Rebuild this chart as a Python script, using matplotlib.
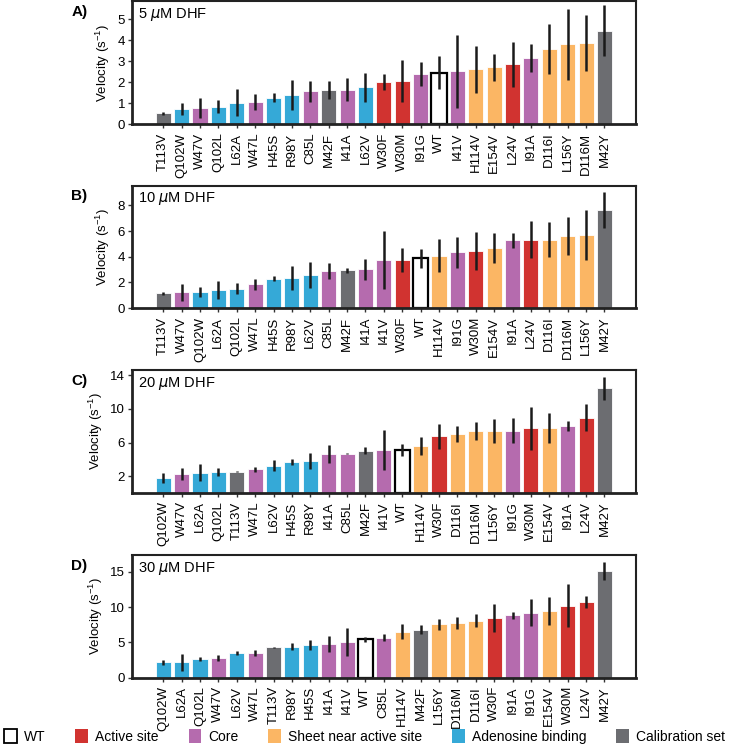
import matplotlib
matplotlib.use("Agg")
import matplotlib.pyplot as plt
from matplotlib.patches import Patch

plt.rcParams['font.family'] = ['Liberation Sans', 'DejaVu Sans']

# mutant category
group = {
    'WT': 'WT',
    'W30F': 'active', 'W30M': 'active', 'L24V': 'active',
    'W47V': 'core', 'W47L': 'core', 'C85L': 'core', 'I41A': 'core',
    'I91G': 'core', 'I41V': 'core', 'I91A': 'core',
    'H114V': 'sheet', 'E154V': 'sheet', 'D116I': 'sheet', 'L156Y': 'sheet', 'D116M': 'sheet',
    'Q102W': 'aden', 'Q102L': 'aden', 'L62A': 'aden', 'H45S': 'aden', 'R98Y': 'aden', 'L62V': 'aden',
    'T113V': 'calib', 'M42F': 'calib', 'M42Y': 'calib',
}
colors = {'WT': 'white', 'active': '#d13330', 'core': '#b56bae', 'sheet': '#fbb664',
          'aden': '#35a9d7', 'calib': '#6c6d71'}

# 5 uM DHF
labels_5 = ['T113V', 'Q102W', 'W47V', 'Q102L', 'L62A', 'W47L', 'H45S', 'R98Y', 'C85L', 'M42F',
            'I41A', 'L62V', 'W30F', 'W30M', 'I91G', 'WT', 'I41V', 'H114V', 'E154V', 'L24V',
            'I91A', 'D116I', 'L156Y', 'D116M', 'M42Y']
vel_5 = [0.51, 0.73, 0.76, 0.84, 1.03, 1.07, 1.27, 1.39, 1.56, 1.64, 1.64, 1.75, 2.02, 2.05,
         2.39, 2.45, 2.53, 2.61, 2.71, 2.85, 3.17, 3.58, 3.81, 3.87, 4.46]
err_5 = [0.07, 0.3, 0.48, 0.33, 0.64, 0.38, 0.22, 0.7, 0.51, 0.44, 0.55, 0.67, 0.38, 1.0,
         0.58, 0.78, 1.74, 1.12, 0.64, 1.08, 0.67, 1.19, 1.68, 1.35, 1.2]

# 10 uM DHF
labels_10 = ['T113V', 'W47V', 'Q102W', 'L62A', 'Q102L', 'W47L', 'H45S', 'R98Y', 'L62V', 'C85L',
             'M42F', 'I41A', 'I41V', 'W30F', 'WT', 'H114V', 'I91G', 'W30M', 'E154V', 'I91A',
             'L24V', 'D116I', 'D116M', 'L156Y', 'M42Y']
vel_10 = [1.16, 1.24, 1.24, 1.39, 1.5, 1.86, 2.3, 2.37, 2.58, 2.89, 2.94, 3.02, 3.74, 3.77,
          3.9, 4.1, 4.34, 4.44, 4.65, 5.29, 5.34, 5.34, 5.63, 5.68, 7.66]
err_10 = [0.1, 0.67, 0.39, 0.71, 0.43, 0.43, 0.2, 0.95, 1.0, 0.65, 0.2, 0.8, 2.26, 0.95,
          0.74, 1.29, 1.19, 1.46, 1.17, 0.59, 1.42, 1.33, 1.5, 1.94, 1.4]

# 20 uM DHF
labels_20 = ['Q102W', 'W47V', 'L62A', 'Q102L', 'T113V', 'W47L', 'L62V', 'H45S', 'R98Y', 'I41A',
             'C85L', 'M42F', 'I41V', 'WT', 'H114V', 'W30F', 'D116I', 'D116M', 'L156Y', 'I91G',
             'W30M', 'E154V', 'I91A', 'L24V', 'M42Y']
vel_20 = [1.76, 2.24, 2.43, 2.51, 2.55, 2.79, 3.26, 3.73, 3.81, 4.64, 4.68, 5.03, 5.07, 5.11,
          5.58, 6.76, 6.96, 7.35, 7.35, 7.43, 7.67, 7.71, 8.02, 8.97, 12.43]
err_20 = [0.6, 0.75, 1.0, 0.5, 0.05, 0.3, 0.6, 0.35, 0.95, 1.1, 0.05, 0.4, 2.4, 0.73,
          1.06, 1.5, 0.95, 1.08, 1.42, 1.47, 2.52, 1.81, 0.59, 1.63, 1.42]

# 30 uM DHF
labels_30 = ['Q102W', 'L62A', 'Q102L', 'W47V', 'L62V', 'W47L', 'T113V', 'R98Y', 'H45S', 'I41A',
             'I41V', 'WT', 'C85L', 'H114V', 'M42F', 'L156Y', 'D116M', 'D116I', 'W30F', 'I91A',
             'I91G', 'E154V', 'W30M', 'L24V', 'M42Y']
vel_30 = [2.16, 2.16, 2.67, 2.81, 3.52, 3.52, 4.31, 4.36, 4.64, 4.78, 5.06, 5.44, 5.67,
          6.52, 6.8, 7.55, 7.74, 8.11, 8.44, 8.86, 9.19, 9.47, 10.22, 10.74, 15.14]
err_30 = [0.4, 1.25, 0.33, 0.38, 0.33, 0.38, 0.05, 0.5, 0.73, 1.08, 1.95, 0.33, 0.52,
          1.03, 0.66, 0.84, 0.82, 0.89, 1.95, 0.47, 1.92, 2.04, 3.05, 0.84, 1.33]

panels = [
    ('A)', '5 $\\mu$M DHF', labels_5, vel_5, err_5, (0, 5.85), [0, 1, 2, 3, 4, 5]),
    ('B)', '10 $\\mu$M DHF', labels_10, vel_10, err_10, (0, 9.55), [0, 2, 4, 6, 8]),
    ('C)', '20 $\\mu$M DHF', labels_20, vel_20, err_20, (0, 14.6), [2, 6, 10, 14]),
    ('D)', '30 $\\mu$M DHF', labels_30, vel_30, err_30, (0, 17.4), [0, 5, 10, 15]),
]
bottoms = [0.834, 0.588, 0.341, 0.094]

fig = plt.figure(figsize=(7.29, 7.48), dpi=100)

for (tag, title, labs, vel, err, ylim, yt), b in zip(panels, bottoms):
    ax = fig.add_axes([0.181, b, 0.691, 0.164])
    x = range(len(labs))
    fc = [colors[group[l]] for l in labs]
    ec = ['black' if l == 'WT' else 'white' for l in labs]
    lw = [1.6 if l == 'WT' else 0.6 for l in labs]
    ax.bar(x, vel, width=0.82, color=fc, edgecolor=ec, linewidth=lw, zorder=2)
    ax.errorbar(x, vel, yerr=err, fmt='none', ecolor='#1a1a1a', elinewidth=1.8, capsize=0, zorder=3)
    ax.set_xlim(-1.7, len(labs) + 0.7)
    ax.set_ylim(*ylim)
    ax.set_yticks(yt)
    ax.set_xticks(list(x))
    ax.set_xticklabels(labs, rotation=90, fontsize=9.5)
    ax.tick_params(axis='y', labelsize=9.5, length=3, width=1, color='#333333', pad=2)
    ax.tick_params(axis='x', length=3, width=1, color='#333333', pad=3)
    for s in ax.spines.values():
        s.set_linewidth(1.5)
        s.set_color('#222222')
    ax.spines['left'].set_linewidth(2)
    ax.spines['bottom'].set_linewidth(2)
    ax.set_ylabel('Velocity (s$^{\\mathregular{-1}}$)', fontsize=9.5, labelpad=4)
    ax.text(0.012, 0.96, title, transform=ax.transAxes, ha='left', va='top', fontsize=10.5)
    fig.text(0.098, b + 0.164 - 0.005, tag, ha='left', va='top', fontsize=11, fontweight='bold')

handles = [
    Patch(facecolor='white', edgecolor='black', linewidth=1.3, label='WT'),
    Patch(facecolor=colors['active'], label='Active site'),
    Patch(facecolor=colors['core'], label='Core'),
    Patch(facecolor=colors['sheet'], label='Sheet near active site'),
    Patch(facecolor=colors['aden'], label='Adenosine binding'),
    Patch(facecolor=colors['calib'], label='Calibration set'),
]
fig.legend(handles=handles, loc='lower left', bbox_to_anchor=(0.0, 0.0, 1.0, 0.03),
           mode='expand', ncol=6, frameon=False, fontsize=10, handlelength=0.9,
           handleheight=1.1, handletextpad=0.5, borderaxespad=0.0, borderpad=0.3)

fig.savefig('out.png', dpi=100)
